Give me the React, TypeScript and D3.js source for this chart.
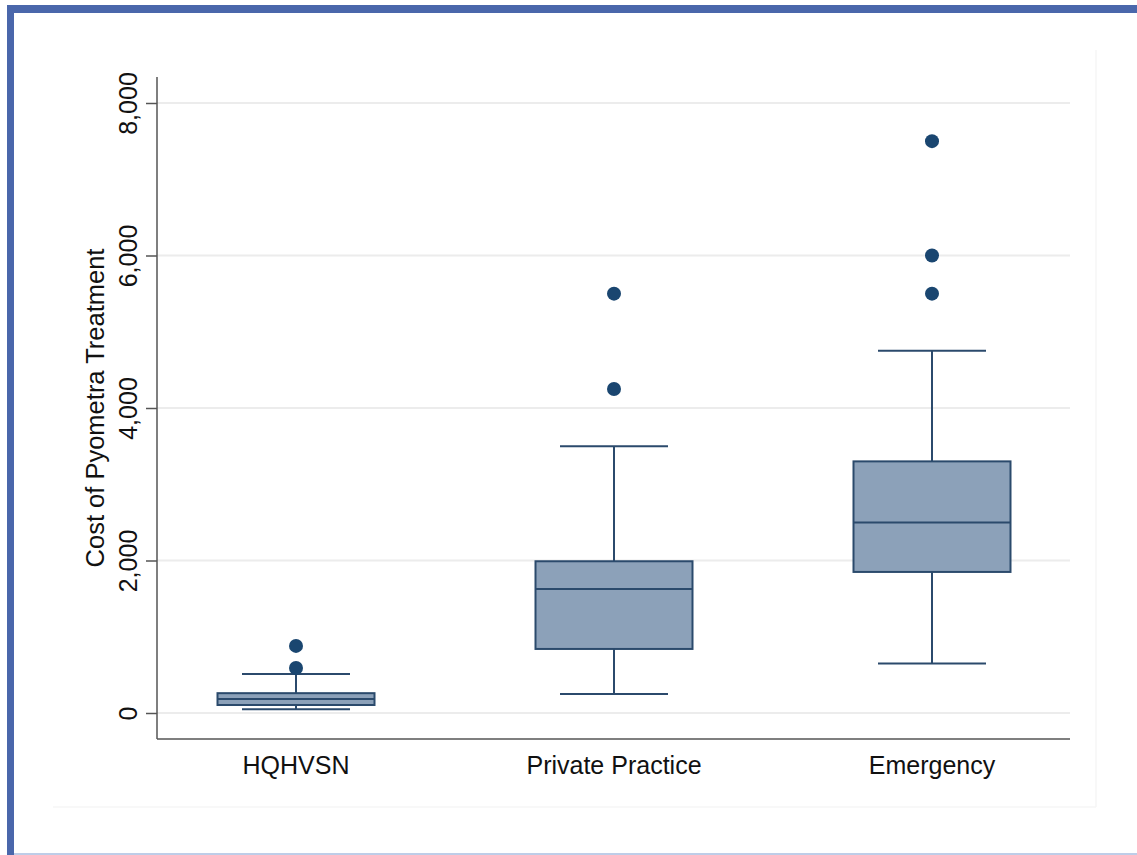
import React, { useEffect, useRef } from 'react';
import { select, scaleLinear, scalePoint, axisLeft, format } from 'd3';

// groups along the x axis
const groups = ['HQHVSN', 'Private Practice', 'Emergency'];
// box statistics (cost)
const lowerWhisker = [50, 250, 650];
const q1 = [105, 840, 1850];
const median = [185, 1625, 2500];
const q3 = [260, 1990, 3300];
const upperWhisker = [510, 3500, 4750];
// outside values per group
const outliers = [[590, 880], [4250, 5500], [5500, 6000, 7500]];
const yTicks = [0, 2000, 4000, 6000, 8000];

const W = 1137;
const H = 855;
const FONT = 'Arial, "Liberation Sans", Helvetica, sans-serif';

const App = () => {
  const svgRef = useRef<SVGSVGElement>(null);

  useEffect(() => {
    const svg = select(svgRef.current);
    svg.selectAll('*').remove();

    const left = 157, right = 1070, top = 77, bottom = 739;

    // frame
    svg.append('rect').attr('x', 0).attr('y', 0).attr('width', W).attr('height', H).attr('fill', '#fff');
    svg.append('rect').attr('x', 7).attr('y', 5).attr('width', W - 7).attr('height', 8).attr('fill', '#4a67ab');
    svg.append('rect').attr('x', 7).attr('y', 5).attr('width', 7).attr('height', H - 5).attr('fill', '#4a67ab');
    svg.append('line').attr('x1', 14).attr('x2', W).attr('y1', 854).attr('y2', 854)
      .attr('stroke', '#a9bde0').attr('stroke-width', 1.5);

    // faint graph region
    svg.append('line').attr('x1', 1096).attr('x2', 1096).attr('y1', 50).attr('y2', 807)
      .attr('stroke', '#f6f6f6').attr('stroke-width', 1.5);
    svg.append('line').attr('x1', 53).attr('x2', 1096).attr('y1', 807).attr('y2', 807)
      .attr('stroke', '#f6f6f6').attr('stroke-width', 1.5);

    const y = scaleLinear().domain([0, 8000]).range([713, 103]);
    const x = scalePoint<string>().domain(groups).range([left + 139, right - 138]);
    const boxW = 157;
    const capW = 108;

    // gridlines
    svg.append('g').selectAll('line').data(yTicks).join('line')
      .attr('x1', left).attr('x2', right)
      .attr('y1', d => y(d)).attr('y2', d => y(d))
      .attr('stroke', '#ececec').attr('stroke-width', 2);

    // y axis
    const yAxis = axisLeft(y).tickValues(yTicks).tickFormat(format(',')).tickSize(11);
    const gy = svg.append('g').attr('transform', `translate(${left},0)`).call(yAxis);
    gy.select('.domain').remove();
    gy.selectAll('.tick line').attr('stroke', '#555').attr('stroke-width', 1.5);
    gy.selectAll('.tick text')
      .attr('fill', '#111').attr('font-family', FONT).attr('font-size', 25)
      .attr('text-anchor', 'middle')
      .attr('transform', 'translate(-29,0) rotate(-90)')
      .attr('x', 0).attr('y', 0).attr('dy', '0.35em');

    svg.append('line').attr('x1', left).attr('x2', left).attr('y1', top).attr('y2', bottom)
      .attr('stroke', '#555').attr('stroke-width', 1.5);
    svg.append('line').attr('x1', left).attr('x2', right).attr('y1', bottom).attr('y2', bottom)
      .attr('stroke', '#555').attr('stroke-width', 1.5);

    // axis title
    svg.append('text').attr('transform', `translate(104,${(y(0) + y(8000)) / 2 + 0}) rotate(-90)`)
      .attr('text-anchor', 'middle').attr('font-family', FONT).attr('font-size', 25.5).attr('fill', '#111')
      .text('Cost of Pyometra Treatment');

    // category labels
    svg.append('g').selectAll('text').data(groups).join('text')
      .attr('x', d => x(d)!).attr('y', 774)
      .attr('text-anchor', 'middle').attr('font-family', FONT).attr('font-size', 25).attr('fill', '#111')
      .text(d => d);

    const stroke = '#2b4a6c';
    const boxes = svg.append('g').selectAll('g').data(groups).join('g');
    // whiskers
    boxes.append('line')
      .attr('x1', d => x(d)!).attr('x2', d => x(d)!)
      .attr('y1', (d, i) => y(upperWhisker[i])).attr('y2', (d, i) => y(lowerWhisker[i]))
      .attr('stroke', stroke).attr('stroke-width', 2);
    boxes.append('line')
      .attr('x1', d => x(d)! - capW / 2).attr('x2', d => x(d)! + capW / 2)
      .attr('y1', (d, i) => y(upperWhisker[i])).attr('y2', (d, i) => y(upperWhisker[i]))
      .attr('stroke', stroke).attr('stroke-width', 2);
    boxes.append('line')
      .attr('x1', d => x(d)! - capW / 2).attr('x2', d => x(d)! + capW / 2)
      .attr('y1', (d, i) => y(lowerWhisker[i])).attr('y2', (d, i) => y(lowerWhisker[i]))
      .attr('stroke', stroke).attr('stroke-width', 2);
    // box
    boxes.append('rect')
      .attr('x', d => x(d)! - boxW / 2).attr('width', boxW)
      .attr('y', (d, i) => y(q3[i])).attr('height', (d, i) => y(q1[i]) - y(q3[i]))
      .attr('fill', '#8ca1b9').attr('stroke', stroke).attr('stroke-width', 2);
    boxes.append('line')
      .attr('x1', d => x(d)! - boxW / 2).attr('x2', d => x(d)! + boxW / 2)
      .attr('y1', (d, i) => y(median[i])).attr('y2', (d, i) => y(median[i]))
      .attr('stroke', stroke).attr('stroke-width', 2);
    // outside values
    boxes.selectAll('circle').data((d, i) => outliers[i].map(v => ({ g: d, v }))).join('circle')
      .attr('cx', o => x(o.g)!).attr('cy', o => y(o.v)).attr('r', 7)
      .attr('fill', '#1a4670');
  }, []);

  return (
    <svg ref={svgRef} width={W} height={H} style={{ position: 'absolute', left: 0, top: 0 }} />
  );
};

export default App;
